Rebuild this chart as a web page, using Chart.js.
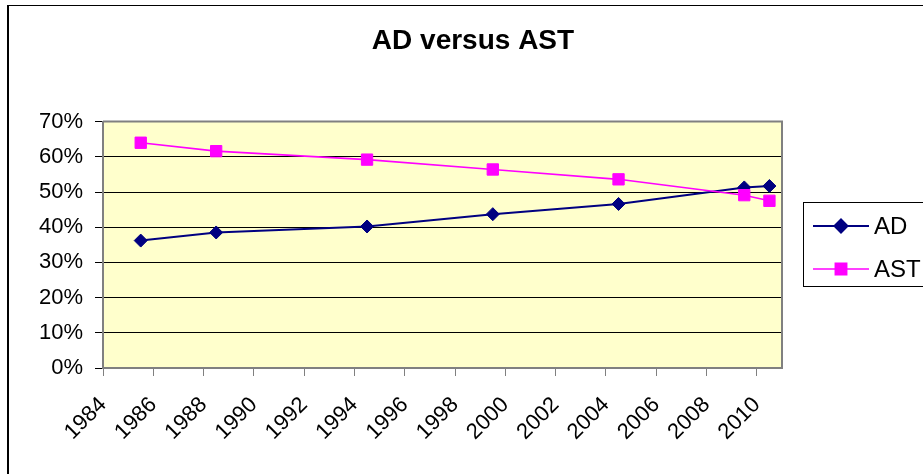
<!DOCTYPE html>
<html>
<head>
<meta charset="utf-8">
<script src="https://cdn.jsdelivr.net/npm/chart.js@4/dist/chart.umd.min.js"></script>
<style>
html,body{margin:0;padding:0;background:#fff;overflow:hidden;}
#wrap{width:946px;height:474px;}
</style>
</head>
<body>
<div id="wrap"><canvas id="c" width="946" height="474"></canvas></div>
<script>
const years = [1985.5, 1988.5, 1994.5, 1999.5, 2004.5, 2009.5, 2010.5];
const adValues = [36.2, 38.5, 40.2, 43.7, 46.6, 51.3, 51.7];
const astValues = [64.0, 61.6, 59.2, 56.4, 53.6, 49.1, 47.5];
const seriesNames = ['AD', 'AST'];
const titleText = 'AD versus AST';
const xMin = 1984, xMax = 2011, xStep = 2;
const yMin = 0, yMax = 70, yStep = 10;

const FONT = "'Liberation Sans', Arial, sans-serif";

const bgPlugin = {
  id: 'bgPlugin',
  beforeDraw(chart) {
    const {ctx, chartArea: a} = chart;
    ctx.save();
    ctx.fillStyle = '#ffffff';
    ctx.fillRect(0, 0, chart.width, chart.height);
    ctx.fillStyle = '#FFFFCC';
    ctx.fillRect(a.left, a.top, a.right - a.left, a.bottom - a.top);
    ctx.strokeStyle = '#000';
    ctx.lineWidth = 2;
    ctx.beginPath();
    ctx.moveTo(8, 480); ctx.lineTo(8, 5.5);
    ctx.stroke();
    ctx.lineWidth = 1;
    ctx.beginPath();
    ctx.moveTo(7, 5.5); ctx.lineTo(960, 5.5);
    ctx.stroke();
    ctx.restore();
  },
  beforeDatasetsDraw(chart) {
    const {ctx, chartArea: a} = chart;
    ctx.save();
    ctx.strokeStyle = '#808080';
    ctx.lineWidth = 2;
    ctx.beginPath();
    ctx.moveTo(a.left, a.top); ctx.lineTo(a.right, a.top); ctx.lineTo(a.right, a.bottom);
    ctx.stroke();
    ctx.restore();
  },
  afterDraw(chart) {
    const ctx = chart.ctx;
    ctx.save();
    const bx = 803.5, by = 202.5, bw = 200, bh = 84;
    ctx.strokeStyle = '#000';
    ctx.lineWidth = 1;
    ctx.strokeRect(bx, by, bw, bh);
    const rows = [226, 269];
    chart.data.datasets.forEach((ds, i) => {
      const y = rows[i];
      ctx.strokeStyle = ds.borderColor;
      ctx.lineWidth = ds.borderWidth;
      ctx.beginPath();
      ctx.moveTo(813, y); ctx.lineTo(869, y);
      ctx.stroke();
      ctx.fillStyle = ds.pointBackgroundColor;
      ctx.strokeStyle = ds.pointBorderColor;
      Chart.helpers.drawPoint(ctx, {pointStyle: ds.pointStyle, radius: ds.pointRadius, rotation: 0, borderWidth: 1}, 841, y);
      ctx.fillStyle = '#000';
      ctx.font = '24px ' + FONT;
      ctx.textBaseline = 'middle';
      ctx.textAlign = 'left';
      ctx.fillText(ds.label, 874, y + 1);
    });
    ctx.restore();
  }
};

new Chart(document.getElementById('c'), {
  type: 'line',
  data: {
    datasets: [
      {
        label: seriesNames[0],
        data: years.map((x, i) => ({x: x, y: adValues[i]})),
        borderColor: '#000080',
        backgroundColor: '#000080',
        pointBackgroundColor: '#000080',
        pointBorderColor: '#000080',
        borderWidth: 2,
        pointStyle: 'rectRot',
        pointRadius: 6.5,
        pointBorderWidth: 1,
        tension: 0,
        order: 1
      },
      {
        label: seriesNames[1],
        data: years.map((x, i) => ({x: x, y: astValues[i]})),
        borderColor: '#FF00FF',
        backgroundColor: '#FF00FF',
        pointBackgroundColor: '#FF00FF',
        pointBorderColor: '#FF00FF',
        borderWidth: 1.6,
        pointStyle: 'rect',
        pointRadius: 8,
        pointBorderWidth: 1,
        tension: 0,
        order: 0
      }
    ]
  },
  options: {
    responsive: false,
    animation: false,
    devicePixelRatio: 1,
    layout: {padding: {left: 0, right: 0, top: 0, bottom: 0}},
    plugins: {
      legend: {display: false},
      tooltip: {enabled: false},
      title: {
        display: true,
        text: titleText,
        color: '#000',
        font: {family: FONT, size: 28, weight: 'bold'},
        padding: {top: 24, bottom: 64}
      }
    },
    scales: {
      x: {
        type: 'linear',
        min: xMin,
        max: xMax,
        afterFit(s) { s.height = 106; },
        ticks: {
          stepSize: xStep,
          includeBounds: false,
          autoSkip: false,
          maxRotation: 45,
          minRotation: 45,
          padding: 16,
          color: '#000',
          font: {family: FONT, size: 22},
          callback: v => String(v)
        },
        grid: {
          drawOnChartArea: false,
          drawTicks: true,
          tickLength: 8,
          color: '#808080'
        },
        border: {display: true, color: '#808080', width: 2}
      },
      y: {
        type: 'linear',
        min: yMin,
        max: yMax,
        afterFit(s) { s.width = 103; },
        ticks: {
          stepSize: yStep,
          padding: 12,
          color: '#000',
          font: {family: FONT, size: 22},
          callback: v => v + '%'
        },
        grid: {
          color: ctx => (ctx.tick && ctx.tick.value === yMax) ? '#808080' : '#000',
          tickColor: '#000',
          lineWidth: 1,
          tickLength: 8
        },
        border: {display: true, color: '#808080', width: 2}
      },
      spacer: {
        type: 'linear',
        position: 'right',
        display: true,
        afterFit(s) { s.width = 946 - 782; },
        ticks: {display: false},
        grid: {display: false, drawTicks: false},
        border: {display: false}
      }
    }
  },
  plugins: [bgPlugin]
});
</script>
</body>
</html>
